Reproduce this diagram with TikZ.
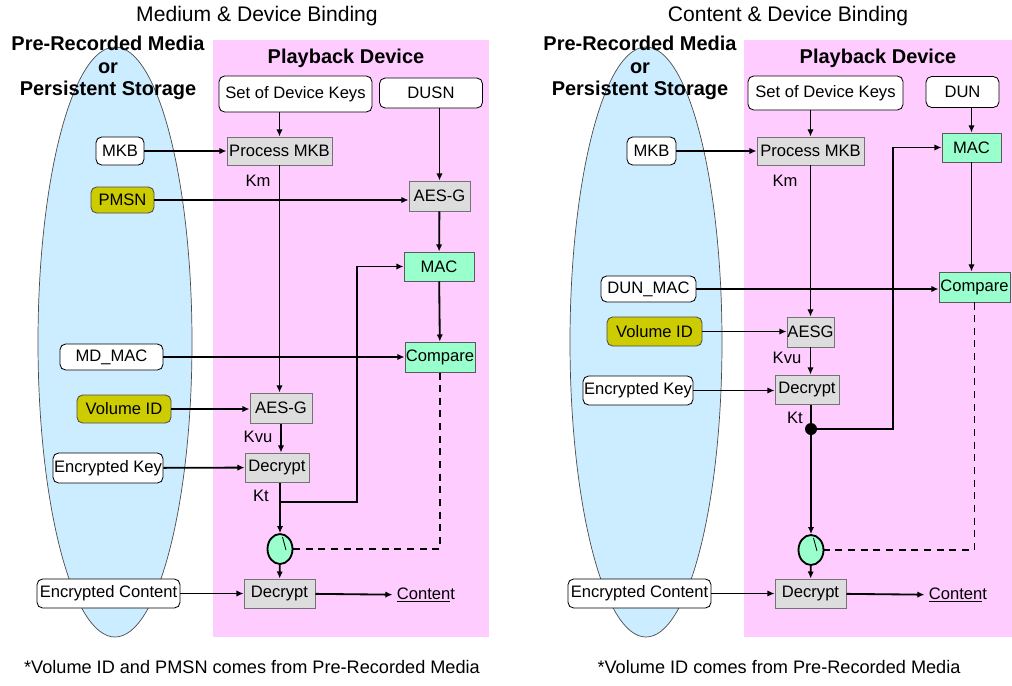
\documentclass[tikz,border=0pt]{standalone}
\usepackage{fontspec}
\setmainfont{Liberation Sans}
\usetikzlibrary{arrows.meta,calc,shapes.geometric}

\definecolor{pbpink}{HTML}{FFCCFF}
\definecolor{mdblue}{HTML}{CCECFF}
\definecolor{boxgray}{HTML}{DDDDDD}
\definecolor{macgreen}{HTML}{99FFCC}
\definecolor{idolive}{HTML}{CCCC00}

\newdimen\px \px=0.025cm
\newcommand{\boxfont}{\fontsize{11.8}{14}\selectfont}

\tikzset{sz/.style 2 args={minimum width=#1\px,minimum height=#2\px}}
\tikzstyle{nW}=[draw,rounded corners=4pt,fill=white,inner sep=0pt,line width=0.6pt,font=\boxfont]
\tikzstyle{nY}=[draw=black!70,rounded corners=4pt,fill=idolive,inner sep=0pt,line width=0.6pt,font=\boxfont]
\tikzstyle{nG}=[draw=black!55,fill=boxgray,inner sep=0pt,line width=0.7pt,font=\boxfont]
\tikzstyle{nM}=[draw=black!65,fill=macgreen,inner sep=0pt,line width=0.7pt,font=\boxfont]
\tikzstyle{nSw}=[ellipse,draw,line width=1.3pt,fill=macgreen,inner sep=0pt,minimum width=25\px,minimum height=30\px]
\tikzstyle{dS}=[circle,fill=black,inner sep=0pt,minimum size=12\px]
\tikzstyle{lS}=[inner sep=0pt,font=\boxfont]
\tikzstyle{cS}=[inner sep=3pt,font=\boxfont]
\tikzstyle{tS}=[inner sep=0pt,font=\fontsize{15}{17}\selectfont]
\tikzstyle{hS}=[inner sep=0pt,align=center,font=\fontsize{14.2}{16}\selectfont\bfseries]
\tikzstyle{fS}=[inner sep=0pt,font=\fontsize{12.9}{15}\selectfont]
\tikzstyle{mdS}=[fill=mdblue,draw=black!70,line width=0.5pt]
\tikzstyle{eS}=[line width=1.3pt,-{Latex[length=5pt,width=4.5pt]}]
\tikzstyle{eP}=[line width=1.3pt]
\tikzstyle{eD}=[line width=1.3pt,dash pattern=on 5pt off 4pt]

\begin{document}
\begin{tikzpicture}[x=0.025cm,y=-0.025cm]
                \useasboundingbox (0,0) rectangle (1012,685);
                % medium & device binding
                \draw (257,16) node[tS] (titleL) {Medium \& Device Binding};
                \fill[pbpink] (213,40) rectangle (489,637);
                \draw[mdS] (115,342) ellipse [x radius=77, y radius=295];
                \draw (108,68) node[hS] (medL) {Pre-Recorded Media\\or\\Persistent Storage};
                \draw (346,58) node[hS] (devL) {Playback Device};
                \draw (295.5,94) node[nW,sz={153}{36}] (skeysL) {Set of Device Keys};
                \draw (431,93) node[nW,sz={103}{30}] (dusn) {DUSN};
                \draw (120,151) node[nW,sz={48}{28}] (mkbL) {MKB};
                \draw (279.5,151) node[nG,sz={105}{28}] (pmkbL) {Process MKB};
                \draw (258,181) node[lS] (kmL) {Km};
                \draw (122.5,200) node[nY,sz={63}{26}] (pmsn) {PMSN};
                \draw (439.5,196) node[nG,sz={61}{30}] (aesgA) {AES-G};
                \draw (439,266.5) node[nM,sz={70}{29}] (macL) {MAC};
                \draw (440,357) node[nM,sz={70}{30}] (cmpL) {Compare};
                \draw (111.5,357) node[nW,sz={103}{26}] (mdmac) {MD\_MAC};
                \draw (124,409) node[nY,sz={94}{28}] (volL) {Volume ID};
                \draw (281,408) node[nG,sz={62}{30}] (aesgB) {AES-G};
                \draw (258,437) node[lS] (kvuL) {Kvu};
                \draw (108,468) node[nW,sz={110}{30}] (enckL) {Encrypted Key};
                \draw (277,467.5) node[nG,sz={64}{29}] (decL) {Decrypt};
                \draw (261,496) node[lS] (ktLbl) {Kt};
                \draw (280,549) node[nSw] (swL) {};
                \draw (279.5,593.5) node[nG,sz={71}{29}] (decCL) {Decrypt};
                \draw (108.5,593.5) node[nW,sz={143}{29}] (enccL) {Encrypted Content};
                \draw (426,595) node[cS] (contL) {\underline{Conten}t};
                \draw (252,667) node[fS] (noteL) {*Volume ID and PMSN comes from Pre-Recorded Media};
                \coordinate (ktL) at (280,502);
                \coordinate (bendL) at (357,502);
                \path
                    (skeysL.south -| pmkbL) edge[eS] (pmkbL)
                    (mkbL) edge[eS] (pmkbL)
                    (pmsn) edge[eS] (pmsn -| aesgA.west)
                    (dusn.south -| aesgA) edge[eS] (aesgA)
                    (aesgA) edge[eS] (macL)
                    (macL) edge[eS] (cmpL)
                    (mdmac) edge[eS] (cmpL)
                    (pmkbL.south) edge[eS] (pmkbL.south |- aesgB.north)
                    (volL) edge[eS] (volL -| aesgB.west)
                    (aesgB.south) edge[eS] (aesgB.south |- decL.north)
                    (enckL) edge[eS] (decL)
                    (decL.south -| swL) edge[eS] (swL)
                    (swL) edge[eS] (decCL)
                    (enccL) edge[eS] (decCL)
                    (decCL) edge[eS] (contL)
                ;
                \draw[eS] (ktL) -- (bendL) |- (macL.west);
                \draw[eD] (cmpL.south) |- (swL.east);
                \draw[line width=0.6pt] ($(swL.center)+(2.5,-12)$) -- ($(swL.center)+(6,1)$);

                % content & device binding
                \draw (788,16) node[tS] (titleR) {Content \& Device Binding};
                \fill[pbpink] (744,40) rectangle (1012,637);
                \draw[mdS] (646,342) ellipse [x radius=76, y radius=295];
                \draw (640,68) node[hS] (medR) {Pre-Recorded Media\\or\\Persistent Storage};
                \draw (878,58) node[hS] (devR) {Playback Device};
                \draw (825.5,93) node[nW,sz={155}{34}] (skeysR) {Set of Device Keys};
                \draw (962.5,92) node[nW,sz={73}{31}] (dun) {DUN};
                \draw (651.5,151) node[nW,sz={49}{28}] (mkbR) {MKB};
                \draw (810.5,151) node[nG,sz={107}{28}] (pmkbR) {Process MKB};
                \draw (785,181) node[lS] (kmR) {Km};
                \draw (971.5,147.5) node[nM,sz={59}{29}] (macR) {MAC};
                \draw (974.5,287) node[nM,sz={71}{30}] (cmpR) {Compare};
                \draw (648.5,289) node[nW,sz={95}{26}] (dunmac) {DUN\_MAC};
                \draw (654.5,331.5) node[nY,sz={95}{29}] (volR) {Volume ID};
                \draw (810.5,332) node[nG,sz={47}{30}] (aesgR) {AESG};
                \draw (787,358) node[lS] (kvuR) {Kvu};
                \draw (638,390.5) node[nW,sz={110}{29}] (enckR) {Encrypted Key};
                \draw (807,389.5) node[nG,sz={64}{29}] (decR) {Decrypt};
                \draw (795,418) node[lS] (ktRLbl) {Kt};
                \draw (811,429) node[dS] (dotR) {};
                \draw (811,550) node[nSw] (swR) {};
                \draw (810.5,593.5) node[nG,sz={71}{29}] (decCR) {Decrypt};
                \draw (639.5,593.5) node[nW,sz={143}{29}] (enccR) {Encrypted Content};
                \draw (958,595) node[cS] (contR) {\underline{Conten}t};
                \draw (779,667) node[fS] (noteR) {*Volume ID comes from Pre-Recorded Media};
                \coordinate (bendR) at (893,429);
                \path
                    (skeysR.south -| pmkbR) edge[eS] (pmkbR)
                    (mkbR) edge[eS] (pmkbR)
                    (dun.south -| macR) edge[eS] (macR)
                    (macR.south) edge[eS] (macR.south |- cmpR.north)
                    (dunmac) edge[eS] (dunmac -| cmpR.west)
                    (pmkbR.south) edge[eS] (pmkbR.south |- aesgR.north)
                    (volR) edge[eS] (volR -| aesgR.west)
                    (aesgR.south) edge[eS] (aesgR.south |- decR.north)
                    (enckR) edge[eS] (enckR -| decR.west)
                    (decR.south -| dotR) edge[eP] (dotR)
                    (dotR) edge[eS] (swR)
                    (swR) edge[eS] (decCR)
                    (enccR) edge[eS] (decCR)
                    (decCR) edge[eS] (contR)
                ;
                \draw[eS] (dotR) -- (bendR) |- (macR.west);
                \draw[eD] (cmpR.south) |- (swR.east);
                \draw[line width=0.6pt] ($(swR.center)+(2.5,-12)$) -- ($(swR.center)+(6,1)$);
\end{tikzpicture}
\end{document}
